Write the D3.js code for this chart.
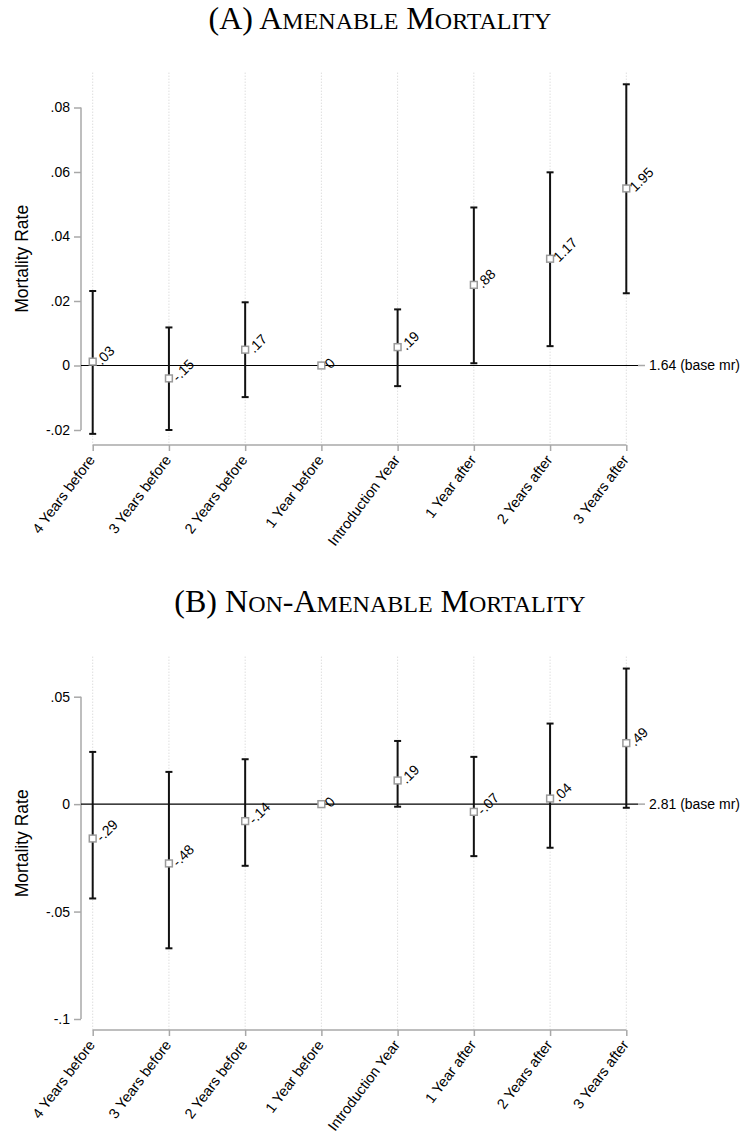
<!DOCTYPE html>
<html>
<head>
<meta charset="utf-8">
<script src="https://cdn.jsdelivr.net/npm/d3@7"></script>
<style>
  body { margin: 0; background: #fff; }
  svg { display: block; }
  text { font-family: "Liberation Sans", Arial, Helvetica, sans-serif; fill: #000; }
  text.title { font-family: "Liberation Serif", "Times New Roman", serif; }
</style>
</head>
<body>
<svg></svg>
<script>
var width = 742;
var height = 1134;

var categories = [
  "4 Years before", "3 Years before", "2 Years before", "1 Year before",
  "Introduction Year", "1 Year after", "2 Years after", "3 Years after"
];

// panel A: amenable mortality
var amenableEst = [0.0012, -0.0040, 0.0049, 0, 0.0057, 0.0250, 0.0331, 0.0549];
var amenableLo  = [-0.0212, -0.0200, -0.0098, null, -0.0064, 0.0007, 0.0060, 0.0224];
var amenableHi  = [0.0231, 0.0118, 0.0196, null, 0.0174, 0.0490, 0.0599, 0.0872];
var amenableLabels = [".03", "-.15", ".17", "0", ".19", ".88", "1.17", "1.95"];
var amenableTicks = [-0.02, 0, 0.02, 0.04, 0.06, 0.08];
var amenableTickLabels = ["-.02", "0", ".02", ".04", ".06", ".08"];

// panel B: non-amenable mortality
var nonAmenableEst = [-0.0160, -0.0276, -0.0079, 0, 0.0110, -0.0036, 0.0026, 0.0284];
var nonAmenableLo  = [-0.0439, -0.0671, -0.0287, null, -0.0012, -0.0242, -0.0203, -0.0017];
var nonAmenableHi  = [0.0243, 0.0150, 0.0209, null, 0.0294, 0.0220, 0.0375, 0.0631];
var nonAmenableLabels = ["-.29", "-.48", "-.14", "0", ".19", "-.07", ".04", ".49"];
var nonAmenableTicks = [-0.1, -0.05, 0, 0.05];
var nonAmenableTickLabels = ["-.1", "-.05", "0", ".05"];

var svg = d3.select("svg")
    .attr("width", width)
    .attr("height", height);

svg.append("rect")
    .attr("width", width)
    .attr("height", height)
    .attr("fill", "#fff");

var x = d3.scalePoint()
    .domain(categories)
    .range([92.7, 626.3]);

var axisX = 81;

drawPanel({
  title: [["(A) A", 32], ["MENABLE", 24], [" M", 32], ["ORTALITY", 24]],
  titleY: 28.5,
  est: amenableEst, lo: amenableLo, hi: amenableHi, labels: amenableLabels,
  ticks: amenableTicks, tickLabels: amenableTickLabels,
  domain: [-0.02, 0.08], range: [430, 107.5],
  plotTop: 72.7, plotBottom: 445,
  base: "1.64 (base mr)"
});

drawPanel({
  title: [["(B) N", 32], ["ON", 24], ["-A", 32], ["MENABLE", 24], [" M", 32], ["ORTALITY", 24]],
  titleY: 611.5,
  est: nonAmenableEst, lo: nonAmenableLo, hi: nonAmenableHi, labels: nonAmenableLabels,
  ticks: nonAmenableTicks, tickLabels: nonAmenableTickLabels,
  domain: [-0.1, 0.05], range: [1019, 696.7],
  plotTop: 656.7, plotBottom: 1030,
  base: "2.81 (base mr)"
});

function drawPanel(p) {
  var y = d3.scaleLinear().domain(p.domain).range(p.range);
  var g = svg.append("g");

  // title, small caps built from two sizes
  var title = g.append("text")
      .attr("class", "title")
      .attr("x", 380)
      .attr("y", p.titleY)
      .attr("text-anchor", "middle");
  title.selectAll("tspan")
    .data(p.title)
    .enter()
    .append("tspan")
      .attr("font-size", d => d[1] + "px")
      .text(d => d[0]);

  // dotted vertical grid
  g.selectAll(".grid")
    .data(categories)
    .enter()
    .append("line")
      .attr("x1", d => x(d))
      .attr("x2", d => x(d))
      .attr("y1", p.plotTop)
      .attr("y2", p.plotBottom)
      .attr("stroke", "#cfcfcf")
      .attr("stroke-width", 1)
      .attr("stroke-dasharray", "1,2");

  // y axis
  var yAxis = d3.axisLeft(y)
      .tickValues(p.ticks)
      .tickFormat((d, i) => p.tickLabels[i])
      .tickSize(7)
      .tickPadding(4);
  var ya = g.append("g")
      .attr("transform", "translate(" + axisX + ",0)")
      .call(yAxis);
  ya.select(".domain").attr("stroke", "#a8a8a8").attr("stroke-width", 1.5).attr("d",
      "M0," + y(p.domain[0]) + "V" + y(p.domain[1]));
  ya.selectAll(".tick line").attr("stroke", "#a8a8a8").attr("stroke-width", 1.5);
  ya.selectAll(".tick text").attr("font-size", "14px").attr("font-family", "Liberation Sans, Arial, sans-serif").attr("fill", "#000");

  // x axis
  var xAxis = d3.axisBottom(x).tickSize(6).tickFormat("");
  var xa = g.append("g")
      .attr("transform", "translate(0," + p.plotBottom + ")")
      .call(xAxis);
  xa.select(".domain").attr("stroke", "#a8a8a8").attr("stroke-width", 1.5)
      .attr("d", "M" + x(categories[0]) + ",0H" + x(categories[categories.length - 1]));
  xa.selectAll(".tick line").attr("stroke", "#a8a8a8").attr("stroke-width", 1.5);

  // category labels sit a bit steeper than 45 degrees in the original
  g.selectAll(".cat")
    .data(categories)
    .enter()
    .append("text")
      .attr("transform", d => "translate(" + (x(d) + 3) + "," + (p.plotBottom + 15) + ") rotate(-53)")
      .attr("text-anchor", "end")
      .attr("font-size", "14.5px")
      .text(d => d);

  // y title
  g.append("text")
      .attr("transform", "translate(28," + (p.plotTop + p.plotBottom) / 2 + ") rotate(-90)")
      .attr("text-anchor", "middle")
      .attr("font-size", "17.5px")
      .text("Mortality Rate");

  // zero reference line with base rate label
  g.append("line")
      .attr("x1", axisX).attr("x2", 638)
      .attr("y1", y(0)).attr("y2", y(0))
      .attr("stroke", "#000").attr("stroke-width", 1.2);
  g.append("line")
      .attr("x1", 638).attr("x2", 645)
      .attr("y1", y(0)).attr("y2", y(0))
      .attr("stroke", "#a8a8a8").attr("stroke-width", 1.5);
  g.append("text")
      .attr("x", 649)
      .attr("y", y(0))
      .attr("dy", "0.35em")
      .attr("font-size", "14px")
      .text(p.base);

  var rows = categories.map((c, i) => ({ cat: c, est: p.est[i], lo: p.lo[i], hi: p.hi[i], label: p.labels[i] }));
  var ci = rows.filter(d => d.lo !== null);

  // confidence intervals
  g.selectAll(".ci")
    .data(ci)
    .enter()
    .append("line")
      .attr("x1", d => x(d.cat)).attr("x2", d => x(d.cat))
      .attr("y1", d => y(d.lo)).attr("y2", d => y(d.hi))
      .attr("stroke", "#111").attr("stroke-width", 2);

  ["lo", "hi"].forEach(function(k) {
    g.selectAll(".cap-" + k)
      .data(ci)
      .enter()
      .append("line")
        .attr("x1", d => x(d.cat) - 3.5).attr("x2", d => x(d.cat) + 3.5)
        .attr("y1", d => y(d[k])).attr("y2", d => y(d[k]))
        .attr("stroke", "#111").attr("stroke-width", 2);
  });

  // point estimates: hollow grey squares
  g.selectAll(".pt")
    .data(rows)
    .enter()
    .append("rect")
      .attr("x", d => x(d.cat) - 3.4)
      .attr("y", d => y(d.est) - 3.4)
      .attr("width", 6.8)
      .attr("height", 6.8)
      .attr("fill", "#fff")
      .attr("stroke", "#9a9a9a")
      .attr("stroke-width", 1.5);

  g.selectAll(".lbl")
    .data(rows)
    .enter()
    .append("text")
      .attr("transform", d => "translate(" + (x(d.cat) + 9) + "," + (y(d.est) + 4) + ") rotate(-45)")
      .attr("font-size", "14px")
      .text(d => d.label);
}
</script>
</body>
</html>
